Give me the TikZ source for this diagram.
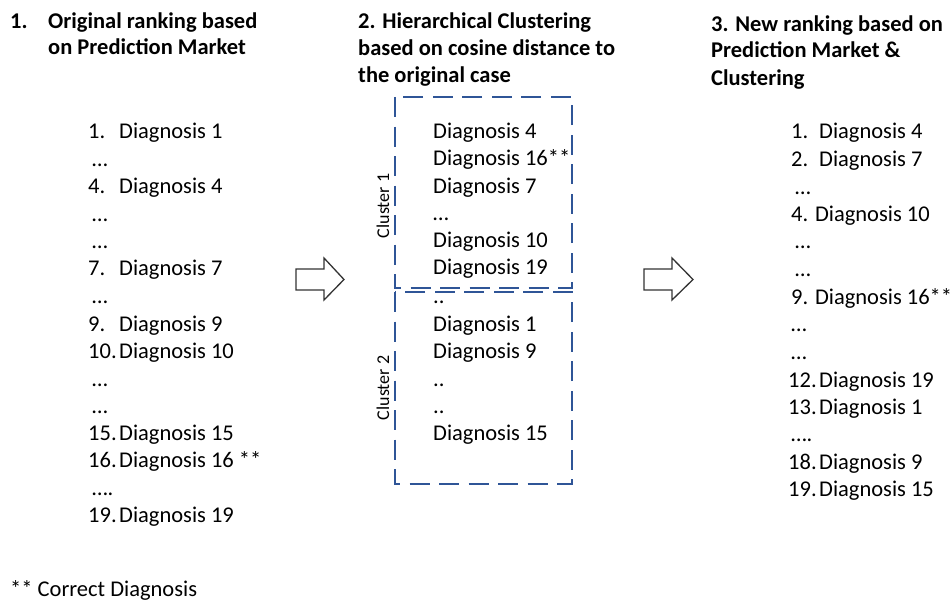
\documentclass[tikz,border=0pt]{standalone}
\usepackage{fontspec}
\setmainfont{Carlito}
\definecolor{clblue}{HTML}{2F5597}
\newcommand{\nb}[1]{\makebox[31pt][l]{#1}}
\newcommand{\nc}[1]{\makebox[28pt][l]{#1}}
\tikzset{
  item/.style={anchor=base west, inner sep=0pt, font=\fontsize{22.5}{27}\selectfont},
  head/.style={anchor=base west, inner sep=0pt, font=\fontsize{22.5}{27}\selectfont\bfseries},
  clbox/.style={draw=clblue, line width=2.7pt, dash pattern=on 20pt off 9.5pt},
  cllab/.style={rotate=90, inner sep=0pt, font=\fontsize{18}{20}\selectfont},
  blockarrow/.style={draw=black!80, line width=1.3pt, fill=white, line join=miter}
}
\begin{document}
\begin{tikzpicture}[x=1pt,y=-1pt]
\useasboundingbox (0,0) rectangle (951,602);
% headers
\node[head] (h1a) at (10,29) {1.};
\node[head] (h1b) at (48,29) {Original ranking based};
\node[head] (h1c) at (48,55) {on Prediction Market};
\node[head] (h2a) at (358,29) {2. Hierarchical Clustering};
\node[head] (h2b) at (358,56) {based on cosine distance to};
\node[head] (h2c) at (358,83) {the original case};
\node[head] (h3a) at (711,32) {3. New ranking based on};
\node[head] (h3b) at (711,58) {Prediction Market \&};
\node[head] (h3c) at (711,85) {Clustering};
% column 1
\node[item] (a1) at (88,139) {\nb{1.}Diagnosis 1};
\node[item] (a2) at (92,166) {…};
\node[item] (a3) at (88,193) {\nb{4.}Diagnosis 4};
\node[item] (a4) at (92,221) {…};
\node[item] (a5) at (92,248) {…};
\node[item] (a6) at (88,275) {\nb{7.}Diagnosis 7};
\node[item] (a7) at (92,303) {…};
\node[item] (a8) at (88,331) {\nb{9.}Diagnosis 9};
\node[item] (a9) at (88,358) {\nb{10.}Diagnosis 10};
\node[item] (a10) at (92,386) {…};
\node[item] (a11) at (92,413) {…};
\node[item] (a12) at (88,440) {\nb{15.}Diagnosis 15};
\node[item] (a13) at (88,467) {\nb{16.}Diagnosis 16 **};
\node[item] (a14) at (92,495) {….};
\node[item] (a15) at (88,522) {\nb{19.}Diagnosis 19};
% cluster boxes
\draw[clbox] (395,97) rectangle (572,288);
\draw[clbox] (395,292) rectangle (572,484);
\node[cllab] (cl1) at (383,206) {Cluster 1};
\node[cllab] (cl2) at (383,388) {Cluster 2};
\node[item] (b1) at (433,138) {Diagnosis 4};
\node[item] (b2) at (433,165) {Diagnosis 16**};
\node[item] (b3) at (433,193) {Diagnosis 7};
\node[item] (b4) at (433,220) {…};
\node[item] (b5) at (433,247) {Diagnosis 10};
\node[item] (b6) at (433,274) {Diagnosis 19};
\node[item] (b7) at (433,303) {..};
\node[item] (b8) at (433,331) {Diagnosis 1};
\node[item] (b9) at (433,358) {Diagnosis 9};
\node[item] (b10) at (433,386) {..};
\node[item] (b11) at (433,413) {..};
\node[item] (b12) at (433,440) {Diagnosis 15};
% column 3
\node[item] (c1) at (791,139) {\nc{1.}Diagnosis 4};
\node[item] (c2) at (791,166) {\nc{2.}Diagnosis 7};
\node[item] (c3) at (795,194) {…};
\node[item] (c4) at (791,221) {4. Diagnosis 10};
\node[item] (c5) at (795,248) {…};
\node[item] (c6) at (795,276) {…};
\node[item] (c7) at (791,304) {9. Diagnosis 16**};
\node[item] (c8) at (791,331) {…};
\node[item] (c9) at (791,359) {…};
\node[item] (c10) at (788,387) {\nb{12.}Diagnosis 19};
\node[item] (c11) at (788,414) {\nb{13.}Diagnosis 1};
\node[item] (c12) at (791,441) {….};
\node[item] (c13) at (788,469) {\nb{18.}Diagnosis 9};
\node[item] (c14) at (788,496) {\nb{19.}Diagnosis 15};
% block arrows
\draw[blockarrow] (296,269) -- (324,269) -- (324,258) -- (344,279.5) -- (324,300) -- (324,290) -- (296,290) -- cycle;
\draw[blockarrow] (644,269) -- (672,269) -- (672,258) -- (693,279.5) -- (672,300) -- (672,290) -- (644,290) -- cycle;
% footnote
\node[item] (fn) at (10,596) {** Correct Diagnosis};
\end{tikzpicture}
\end{document}
